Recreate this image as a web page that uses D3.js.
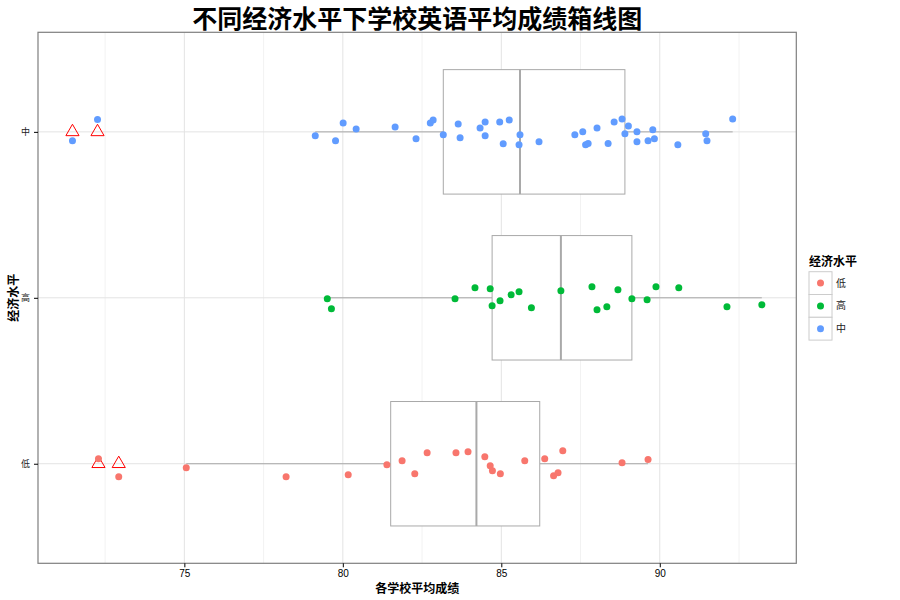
<!DOCTYPE html>
<html>
<head>
<meta charset="utf-8">
<script src="https://cdn.jsdelivr.net/npm/d3@7"></script>
<style>
  html, body { margin: 0; padding: 0; background: #fff; }
  svg { display: block; }
</style>
</head>
<body>
<svg id="chart" width="900" height="600"></svg>
<script>
// ---------------- data ----------------
const categories = ["低", "高", "中"];           // bottom -> top
const colors = ["#F8766D", "#00BA38", "#619CFF"];
const legendTitle = "经济水平";
const titleText = "不同经济水平下学校英语平均成绩箱线图";
const xTitle = "各学校平均成绩";
const yTitle = "经济水平";
const xTicks = [75, 80, 85, 90];
const xMinorTicks = [72.5, 77.5, 82.5, 87.5, 92.5];

const scoresLow = [72.29, 72.93, 75.06, 78.21, 80.17, 81.39, 81.87, 82.27, 82.66, 83.57, 83.95,
  84.48, 84.65, 84.72, 84.97, 85.74, 86.37, 86.65, 86.79, 86.94, 88.81, 89.63];
const jitterLow = [0.030, -0.078, -0.024, -0.078, -0.066, -0.006, 0.018, -0.060, 0.066, 0.066, 0.072,
  0.042, -0.012, -0.042, -0.060, 0.018, 0.030, -0.072, -0.054, 0.078, 0.006, 0.026];

const scoresHigh = [79.51, 79.64, 83.54, 84.17, 84.65, 84.71, 84.96, 85.31, 85.56, 85.95, 86.88,
  87.86, 88.02, 88.33, 88.68, 89.12, 89.60, 89.88, 90.60, 92.12, 93.22];
const jitterHigh = [-0.006, -0.066, -0.006, 0.060, 0.054, -0.048, -0.018, 0.018, 0.036, -0.060, 0.042,
  0.066, -0.072, -0.054, 0.048, -0.006, -0.012, 0.066, 0.060, -0.054, -0.042];

const scoresMid = [71.47, 72.26, 79.13, 79.77, 80.01, 80.42, 81.65, 82.31, 82.76, 82.85, 83.17,
  83.64, 83.70, 84.33, 84.49, 84.49, 84.95, 85.06, 85.25, 85.59, 85.56, 86.19, 87.32, 87.57, 87.66,
  87.74, 88.02, 88.37, 88.56, 88.81, 89.01, 88.90, 89.28, 89.28, 89.63, 89.78, 89.83, 90.57, 91.45,
  91.49, 92.30];
const jitterMid = [-0.054, 0.074, -0.024, -0.054, 0.054, 0.018, 0.030, -0.042, 0.054, 0.072, -0.018,
  0.048, -0.036, 0.024, 0.060, -0.024, 0.060, -0.072, 0.072, -0.018, -0.078, -0.060, -0.018, 0, -0.078,
  -0.070, 0.024, -0.070, 0.060, 0.078, 0.036, -0.012, 0, -0.060, -0.054, 0.012, -0.042, -0.078, -0.012,
  -0.054, 0.078];

const seriesScores = [scoresLow, scoresHigh, scoresMid];
const seriesJitter = [jitterLow, jitterHigh, jitterMid];

// ---------------- layout ----------------
const svg = d3.select("#chart");
const panel = { left: 38, top: 32.3, right: 796.3, bottom: 563.3 };
const cjk = "'Noto Sans CJK SC', 'Noto Sans', sans-serif";
const narrow = "'Liberation Sans Narrow', 'Liberation Sans', Arial, sans-serif";

const allScores = seriesScores.flat();
const [xmin, xmax] = d3.extent(allScores);
const pad = (xmax - xmin) * 0.05;
const x = d3.scaleLinear().domain([xmin - pad, xmax + pad]).range([panel.left, panel.right]);
const y = d3.scalePoint().domain(categories).range([panel.bottom, panel.top]).padding(0.6);
const step = y.step();

// grid
const grid = svg.append("g");
grid.selectAll("line.minor").data(xMinorTicks).join("line")
  .attr("x1", d => x(d)).attr("x2", d => x(d))
  .attr("y1", panel.top).attr("y2", panel.bottom)
  .attr("stroke", "#f2f2f2").attr("stroke-width", 1);
grid.selectAll("line.majx").data(xTicks).join("line")
  .attr("x1", d => x(d)).attr("x2", d => x(d))
  .attr("y1", panel.top).attr("y2", panel.bottom)
  .attr("stroke", "#e3e3e3").attr("stroke-width", 1);
grid.selectAll("line.majy").data(categories).join("line")
  .attr("x1", panel.left).attr("x2", panel.right)
  .attr("y1", d => y(d)).attr("y2", d => y(d))
  .attr("stroke", "#e3e3e3").attr("stroke-width", 1);

// boxplots
const boxG = svg.append("g");
categories.forEach((cat, i) => {
  const vals = seriesScores[i].slice().sort(d3.ascending);
  const q1 = d3.quantile(vals, 0.25);
  const med = d3.quantile(vals, 0.5);
  const q3 = d3.quantile(vals, 0.75);
  const iqr = q3 - q1;
  const lo = d3.min(vals.filter(v => v >= q1 - 1.5 * iqr));
  const hi = d3.max(vals.filter(v => v <= q3 + 1.5 * iqr));
  const outliers = vals.filter(v => v < lo || v > hi);
  const cy = y(cat);
  const h = step * 0.75;
  const stroke = "#a9a9a9";
  boxG.append("line").attr("x1", x(lo)).attr("x2", x(q1)).attr("y1", cy).attr("y2", cy)
    .attr("stroke", stroke).attr("stroke-width", 1);
  boxG.append("line").attr("x1", x(q3)).attr("x2", x(hi)).attr("y1", cy).attr("y2", cy)
    .attr("stroke", stroke).attr("stroke-width", 1);
  boxG.append("rect").attr("x", x(q1)).attr("y", cy - h / 2)
    .attr("width", x(q3) - x(q1)).attr("height", h)
    .attr("fill", "#fff").attr("stroke", stroke).attr("stroke-width", 1);
  boxG.append("line").attr("x1", x(med)).attr("x2", x(med)).attr("y1", cy - h / 2).attr("y2", cy + h / 2)
    .attr("stroke", stroke).attr("stroke-width", 2);
  const tri = d3.symbol().type(d3.symbolTriangle).size(75);
  boxG.selectAll(null).data(outliers).join("path")
    .attr("d", tri)
    .attr("transform", d => `translate(${x(d)},${cy})`)
    .attr("fill", "none").attr("stroke", "#ff0000").attr("stroke-width", 1);
});

// jittered points
const ptG = svg.append("g");
categories.forEach((cat, i) => {
  const pts = seriesScores[i].map((v, k) => ({ v, j: seriesJitter[i][k] }));
  ptG.selectAll(null).data(pts).join("circle")
    .attr("cx", d => x(d.v))
    .attr("cy", d => y(cat) - d.j * step)
    .attr("r", 3.5)
    .attr("fill", colors[i]);
});

// panel border
svg.append("rect").attr("x", panel.left).attr("y", panel.top)
  .attr("width", panel.right - panel.left).attr("height", panel.bottom - panel.top)
  .attr("fill", "none").attr("stroke", "#7f7f7f").attr("stroke-width", 1.2);

// axes
const xAxis = svg.append("g").attr("transform", `translate(0,${panel.bottom})`)
  .call(d3.axisBottom(x).tickValues(xTicks).tickSize(4).tickPadding(3).tickFormat(d3.format("d")));
xAxis.select(".domain").remove();
xAxis.selectAll("line").attr("stroke", "#000");
xAxis.selectAll("text").attr("font-family", narrow).attr("font-size", 10).attr("fill", "#000");

const yAxis = svg.append("g").attr("transform", `translate(${panel.left},0)`)
  .call(d3.axisLeft(y).tickSize(4).tickPadding(4));
yAxis.select(".domain").remove();
yAxis.selectAll("line").attr("stroke", "#000");
yAxis.selectAll("text").attr("font-family", cjk).attr("font-size", 9).attr("fill", "#222");

// titles
svg.append("text").attr("x", (panel.left + panel.right) / 2).attr("y", 28)
  .attr("text-anchor", "middle").attr("font-family", cjk).attr("font-weight", "bold")
  .attr("font-size", 25).attr("fill", "#000").text(titleText);
svg.append("text").attr("x", (panel.left + panel.right) / 2).attr("y", 593)
  .attr("text-anchor", "middle").attr("font-family", cjk).attr("font-weight", "bold")
  .attr("font-size", 12).attr("fill", "#000").text(xTitle);
svg.append("text").attr("transform", `translate(18,${(panel.top + panel.bottom) / 2}) rotate(-90)`)
  .attr("text-anchor", "middle").attr("font-family", cjk).attr("font-weight", "bold")
  .attr("font-size", 12).attr("fill", "#000").text(yTitle);

// legend
const lg = svg.append("g").attr("transform", "translate(809,0)");
lg.append("text").attr("x", 0).attr("y", 266).attr("font-family", cjk).attr("font-weight", "bold")
  .attr("font-size", 12).attr("fill", "#000").text(legendTitle);
const keyH = 22.8, keyTop = 271.7;
categories.forEach((cat, i) => {
  const ky = keyTop + i * keyH;
  lg.append("rect").attr("x", 0).attr("y", ky).attr("width", 23).attr("height", keyH)
    .attr("fill", "#fff").attr("stroke", "#cccccc").attr("stroke-width", 1);
  lg.append("circle").attr("cx", 11.5).attr("cy", ky + keyH / 2).attr("r", 3.5).attr("fill", colors[i]);
  lg.append("text").attr("x", 27).attr("y", ky + keyH / 2).attr("dy", "0.35em")
    .attr("font-family", cjk).attr("font-size", 10).attr("fill", "#222").text(cat);
});
</script>
</body>
</html>
